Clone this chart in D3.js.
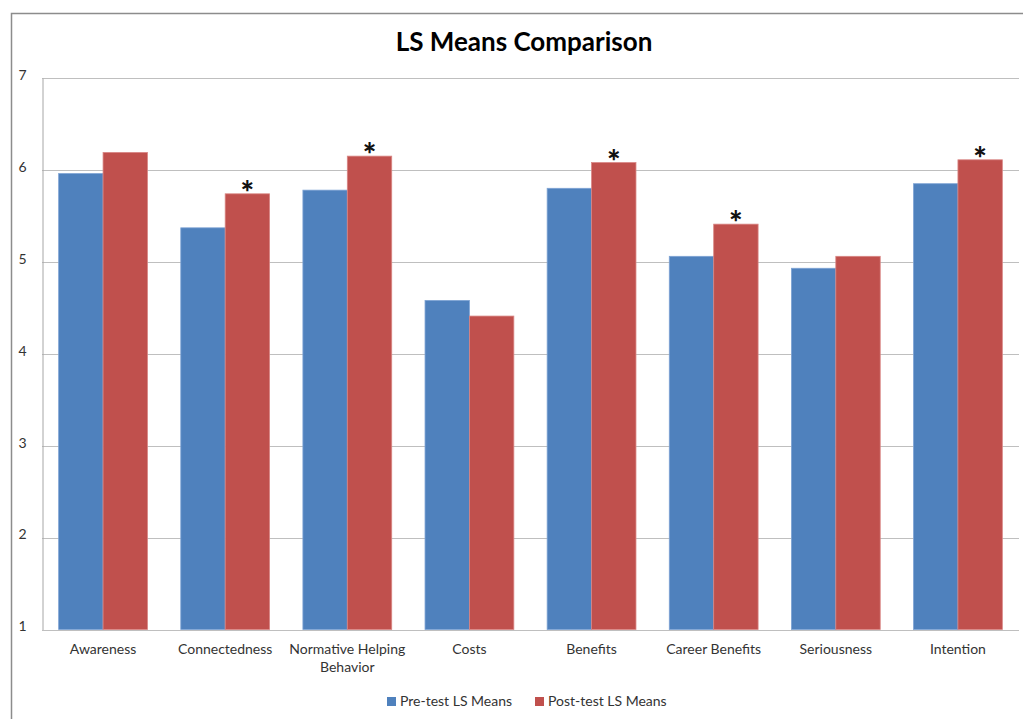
<!DOCTYPE html>
<html>
<head>
<meta charset="utf-8">
<script src="https://cdn.jsdelivr.net/npm/d3@7"></script>
<style>
  html, body { margin: 0; padding: 0; background: #fff; }
  svg { display: block; font-family: Lato, "Open Sans", sans-serif; }
</style>
</head>
<body>
<svg id="chart" width="1023" height="719"></svg>
<script>
// Category names (label lines)
const categories = [
  ["Awareness"],
  ["Connectedness"],
  ["Normative Helping", "Behavior"],
  ["Costs"],
  ["Benefits"],
  ["Career Benefits"],
  ["Seriousness"],
  ["Intention"]
];
const seriesNames = ["Pre-test LS Means", "Post-test LS Means"];
const preValues  = [5.96, 5.37, 5.78, 4.58, 5.80, 5.06, 4.93, 5.85];
const postValues = [6.19, 5.74, 6.15, 4.41, 6.08, 5.41, 5.06, 6.11];
// Significant change markers
const significant = [false, true, true, false, true, true, false, true];
const yTicks = [1, 2, 3, 4, 5, 6, 7];
const colors = ["#4F81BD", "#C0504D"];

const svg = d3.select("#chart");

// Outer chart frame
svg.append("path")
  .attr("d", "M11.5,719 V13.5 H1023")
  .attr("fill", "none").attr("stroke", "#8c8c8c").attr("stroke-width", 1.5);

const plot = { left: 42, right: 1019, top: 78, bottom: 629.5 };

const x = d3.scaleBand()
  .domain(d3.range(categories.length))
  .range([plot.left, plot.right])
  .paddingInner(0).paddingOuter(0);

const inner = d3.scaleBand()
  .domain([0, 1])
  .range([0, x.bandwidth()])
  .paddingInner(0)
  .paddingOuter(0.375);

const y = d3.scaleLinear().domain([1, 7]).range([plot.bottom, plot.top]);

// Gridlines
svg.append("g")
  .selectAll("line")
  .data(yTicks)
  .join("line")
  .attr("x1", plot.left).attr("x2", plot.right)
  .attr("y1", d => Math.round(y(d)) + 0.5).attr("y2", d => Math.round(y(d)) + 0.5)
  .attr("stroke", "#bfbfbf").attr("stroke-width", 1);

// Y axis
const yAxis = svg.append("g")
  .attr("transform", `translate(${plot.left + 0.5},0)`)
  .call(d3.axisLeft(y).tickValues(yTicks).tickSize(0).tickPadding(16).tickFormat(d3.format("d")))
  .attr("font-family", "Lato, 'Open Sans', sans-serif");
yAxis.select(".domain").attr("stroke", "#a6a6a6");
yAxis.selectAll("text").attr("font-size", 14).attr("fill", "#333").attr("dy", "0.1em");

// Bars
const data = categories.map((c, i) => ({ i, vals: [preValues[i], postValues[i]] }));
const groups = svg.append("g").selectAll("g")
  .data(data)
  .join("g")
  .attr("transform", d => `translate(${x(d.i)},0)`);

groups.selectAll("rect")
  .data(d => d.vals.map((v, s) => ({ v, s })))
  .join("rect")
  .attr("x", d => inner(d.s))
  .attr("width", inner.bandwidth())
  .attr("y", d => y(d.v))
  .attr("height", d => y(1) - y(d.v))
  .attr("fill", d => colors[d.s])
  .attr("stroke", d => d.s === 0 ? "#7ea3d4" : "#d98684")
  .attr("stroke-width", 0.8);

// Significance asterisks above the post-test bars
svg.append("g").selectAll("text")
  .data(data.filter(d => significant[d.i]))
  .join("text")
  .attr("x", d => x(d.i) + inner(1) + inner.bandwidth() / 2)
  .attr("y", d => y(d.vals[1]) + 10)
  .attr("text-anchor", "middle")
  .attr("font-size", 32)
  .attr("font-weight", "900")
  .attr("fill", "#111")
  .text("*");

// Category labels
const xl = svg.append("g").selectAll("text")
  .data(categories)
  .join("text")
  .attr("x", (d, i) => x(i) + x.bandwidth() / 2)
  .attr("y", 654)
  .attr("text-anchor", "middle")
  .attr("font-size", 14)
  .attr("fill", "#333");
xl.selectAll("tspan")
  .data(d => d)
  .join("tspan")
  .attr("x", function () { return d3.select(this.parentNode).attr("x"); })
  .attr("dy", (d, j) => j === 0 ? 0 : 18)
  .text(d => d);

// Title
svg.append("text")
  .attr("x", 524).attr("y", 51)
  .attr("text-anchor", "middle")
  .attr("font-size", 26)
  .attr("font-weight", "bold")
  .attr("fill", "#000")
  .text("LS Means Comparison");

// Legend
const legend = svg.append("g");
const legendX = [387, 535];
seriesNames.forEach((name, s) => {
  legend.append("rect")
    .attr("x", legendX[s]).attr("y", 697)
    .attr("width", 9).attr("height", 9)
    .attr("fill", colors[s]);
  legend.append("text")
    .attr("x", legendX[s] + 13).attr("y", 706)
    .attr("font-size", 14)
    .attr("fill", "#333")
    .text(name);
});
</script>
</body>
</html>
